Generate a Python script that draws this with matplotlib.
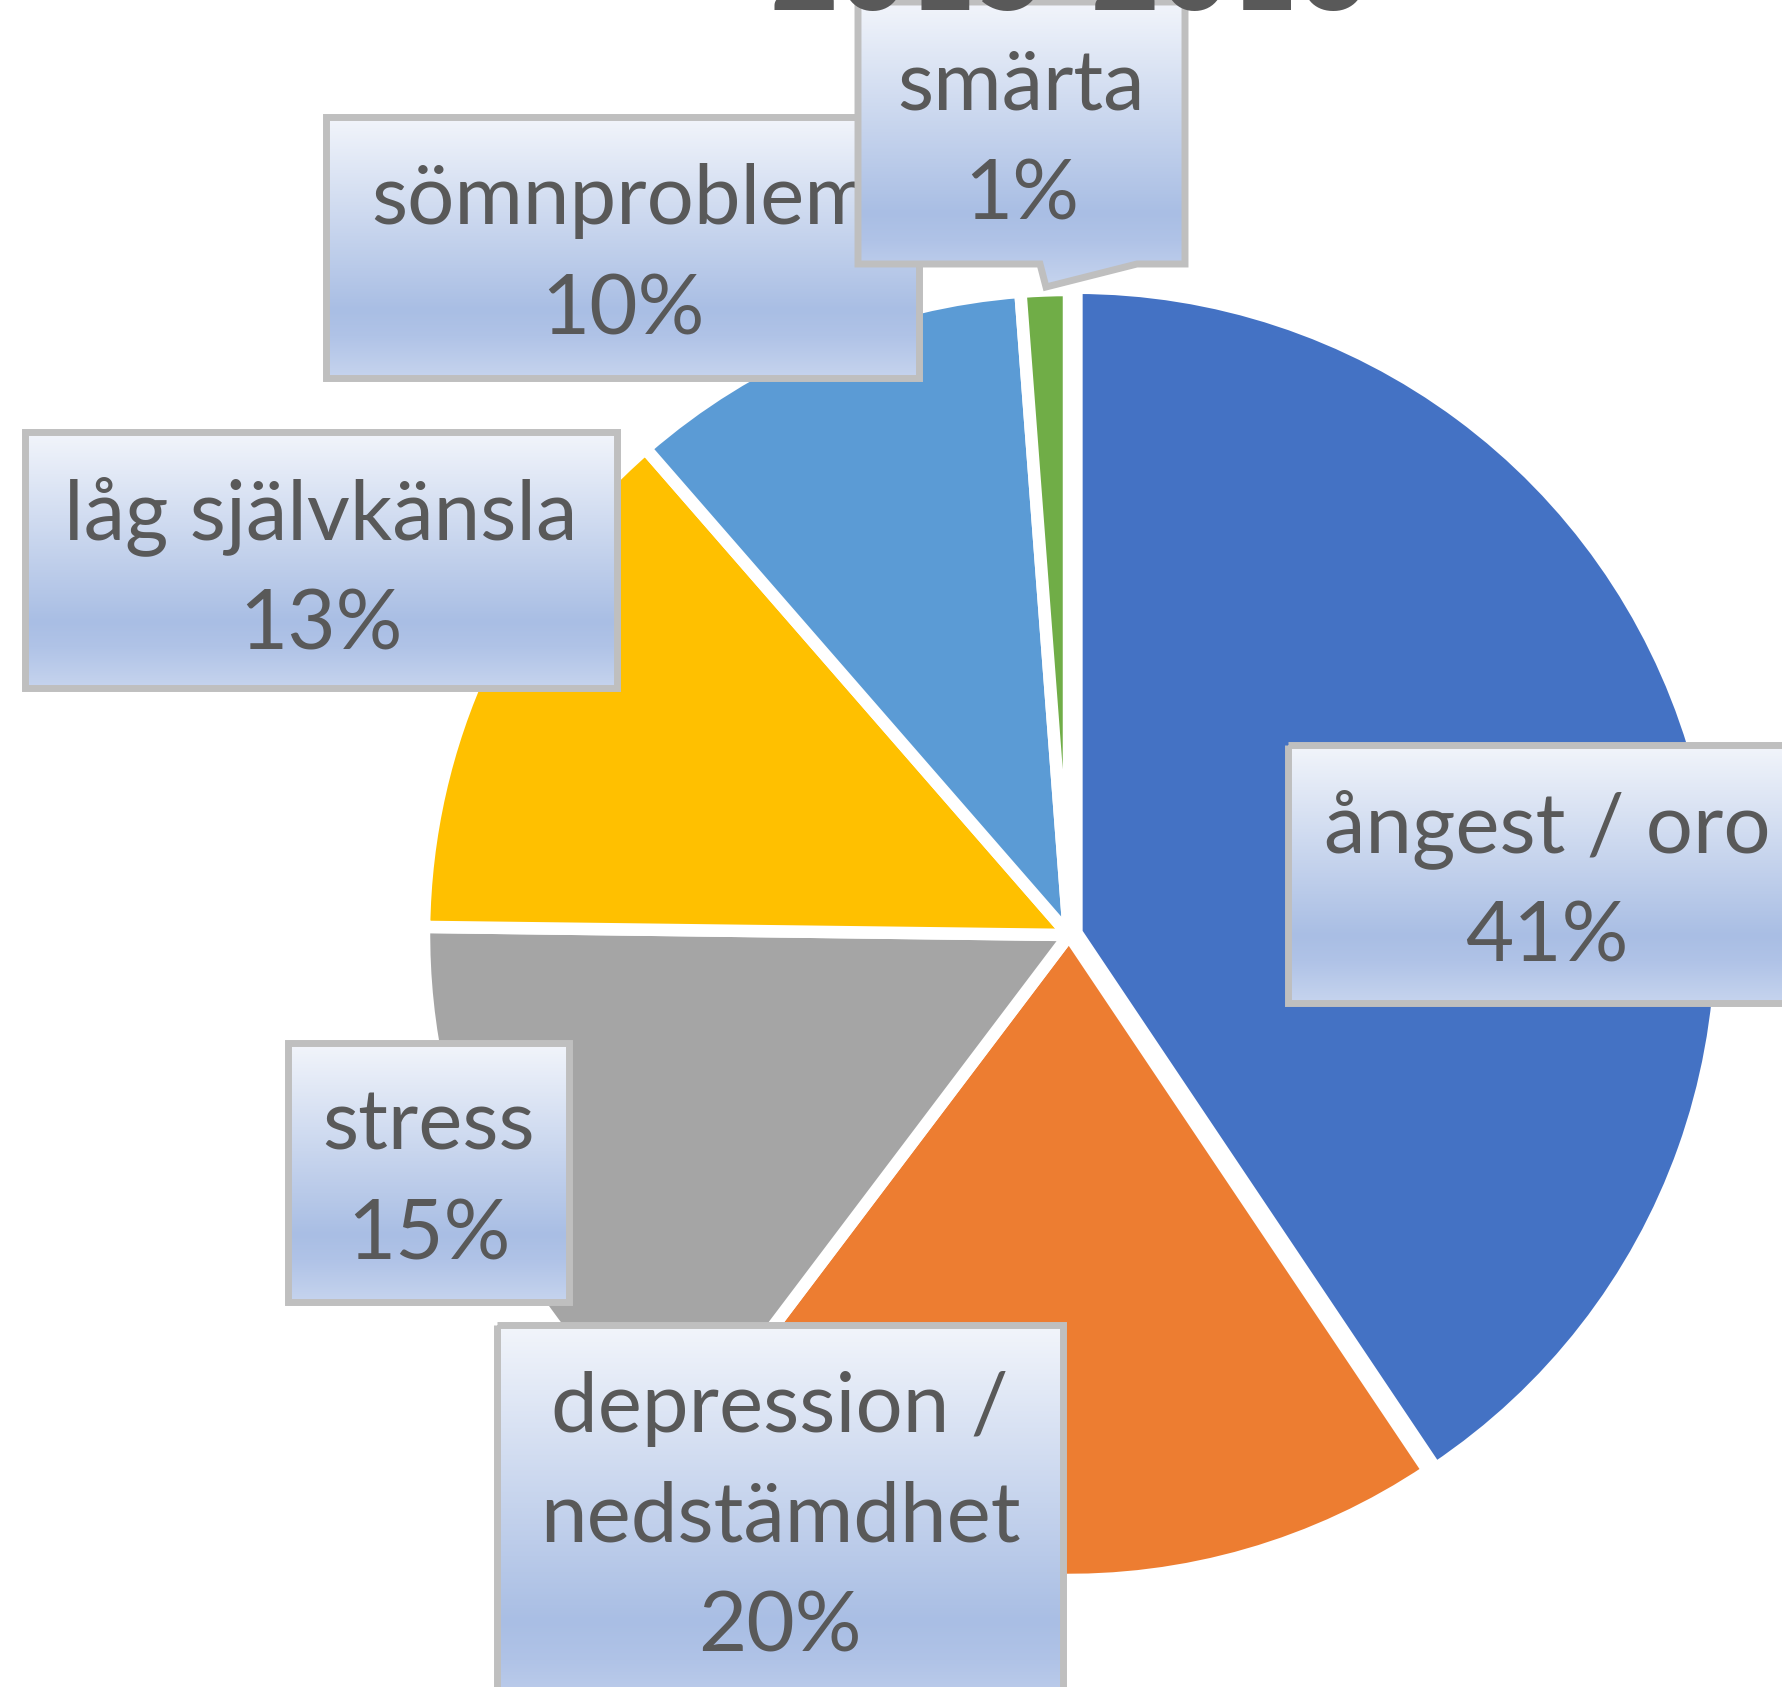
import numpy as np
import matplotlib
matplotlib.use("Agg")
import matplotlib.pyplot as plt
from matplotlib.patches import Polygon
from matplotlib.colors import LinearSegmentedColormap

# data (shares in %, clockwise from 12 o'clock)
categories = ["ångest / oro", "depression /\nnedstämdhet", "stress",
              "låg självkänsla", "sömnproblem", "smärta"]
shares = [40.6, 19.7, 14.9, 13.4, 10.2, 1.2]
slice_colors = ["#4472C4", "#ED7D31", "#A5A5A5", "#FFC000", "#5B9BD5", "#70AD47"]
title = "2015-2016"

# layout in output pixels (top-left origin)
W, H = 1783, 1687
cx, cy, scale = 1069, 935, 645       # pie centre, pixels per radius unit
# label boxes: left, top, right, bottom
box_px = [(1288, 745, 1812, 1003),
          (497, 1325, 1063, 1725),
          (288, 1043, 569, 1302),
          (25, 432, 617, 688),
          (326, 117, 919, 378),
          (858, 2, 1185, 264)]
tail_px = [None, None, None, None, None, (1040, 1046, 287, 1137)]   # x_left, x_tip, y_tip, x_right

text_col = "#595959"
border_col = "#BFBFBF"
grad_cmap = LinearSegmentedColormap.from_list(
    "boxgrad", [(0, "#F2F5FB"), (0.74, "#A9BEE4"), (0.84, "#B0C3E7"), (1, "#C6D4EE")])


def to_data(x, y):
    return (x - cx) / scale, (cy - y) / scale


fig = plt.figure(figsize=(W / 100, H / 100), dpi=100)
ax = fig.add_axes([0, 0, 1, 1])

ax.pie(shares, colors=slice_colors, startangle=90, counterclock=False,
       explode=[0.012, 0, 0, 0, 0, 0],
       wedgeprops=dict(edgecolor="white", linewidth=9, joinstyle="round"))

grad = np.linspace(0, 1, 256).reshape(-1, 1)
for i, (cat, val) in enumerate(zip(categories, shares)):
    l, t, r, b = box_px[i]
    pts = [(l, t), (r, t), (r, b)]
    if tail_px[i] is not None:
        xl, xt, yt, xr = tail_px[i]
        pts += [(xr, b), (xt, yt), (xl, b)]
    pts += [(l, b)]
    pts = [to_data(*p) for p in pts]
    z = 10 + 3 * i
    shape = Polygon(pts, closed=True, fill=False, edgecolor=border_col,
                    linewidth=5, joinstyle="miter", zorder=z + 1)
    ax.add_patch(shape)
    x0, y1 = to_data(l, t)
    x1, y0 = to_data(r, b if tail_px[i] is None else tail_px[i][2])
    im = ax.imshow(grad, cmap=grad_cmap, extent=(x0, x1, y0, y1),
                   origin="upper", aspect="auto", zorder=z)
    im.set_clip_path(shape)

    lines = cat.split("\n") + ["%d%%" % round(val)]
    xc = (l + r) / 2
    if i == 0:
        xc = 1547
    for k, line in enumerate(lines):
        ax.text(*to_data(xc, t + 107 + k * 110), line, ha="center", va="baseline",
                fontsize=60, family="Lato", color=text_col, zorder=z + 2)

ax.set_xlim(-cx / scale, (W - cx) / scale)
ax.set_ylim(-(H - cy) / scale, cy / scale)
ax.set_aspect("equal")
ax.axis("off")

fig.text(cx / W, 1 - 10 / H, title, ha="center", va="baseline", fontsize=86,
         fontweight="bold", family="Lato", color=text_col)

fig.savefig("out.png", dpi=100)
